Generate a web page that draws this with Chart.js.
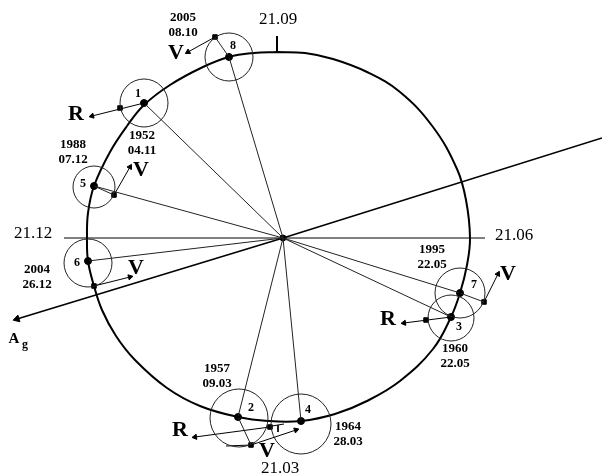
<!DOCTYPE html>
<html>
<head>
<meta charset="utf-8">
<title>Orbit diagram</title>
<script src="https://cdn.jsdelivr.net/npm/chart.js@4"></script>
<style>
  html, body { margin: 0; padding: 0; background: #fff; }
  canvas { display: block; }
</style>
</head>
<body>
<canvas id="orbitChart" width="602" height="476"></canvas>
<script>
const sun = [283, 238];

const orbit = [
  [277,52],[305,53],[333,59],[367,72],[400,92],[433,127],[457,169],[466,200],[470,238],[467,265],
  [460,293],[451,317],[433,349],[400,381],[367,401],[335,414],[301,421],[268,421],[238,417],[200,406],
  [167,388],[135,360],[116,336],[102,310],[94,286],[88,261],[87,238],[88,213],[94,186],[110,152],[127,126],[144,105],
  [170,85],[203,67],[229,57],[254,53],[277,52]
];

const stations = ['1','2','3','4','5','6','7','8'];
const stationX = [144,238,451,301,94,88,460,229];
const stationY = [103,417,317,421,186,261,293,57];
const circleX = [144,239,451,301,94,88,460,229];
const circleY = [103,418,318,424,187,263,293,57];
const circleR = [24,29,23,30,21,24,25,24];
const numberX = [138,251,459,308,83,77,474,233];
const numberY = [94,408,327,410,184,263,285,46];

const dates = [
  ['1952','04.11'],['1957','09.03'],['1960','22.05'],['1964','28.03'],
  ['1988','07.12'],['2004','26.12'],['1995','22.05'],['2005','08.10']
];
const dateX = [142,217,455,348,73,37,432,183];
const dateY = [136,369,349,427,145,270,250,18];

const monthTicks = ['21.09','21.12','21.06','21.03'];
const monthX = [278,33,514,280];
const monthY = [20,234,236,469];

// radius extensions past the orbit
const extensions = [
  [[229,57],[215,37]],
  [[94,186],[114,195]],
  [[460,293],[484,302]],
  [[238,417],[251,445]]
];
const squares = [[120,108],[114,195],[215,37],[251,445],[270,427],[426,320],[484,302],[94,286]];

// velocity / radial vectors: [from, to]
const vectors = [
  [[144,103],[92,116]],
  [[215,37],[188,52]],
  [[114,195],[130,167]],
  [[94,286],[130,277]],
  [[251,445],[296,430]],
  [[270,427],[195,437]],
  [[484,302],[498,274]],
  [[451,317],[404,323]]
];
const vectorNames = ['R','V','V','V','V','R','V','R'];
const nameX = [76,176,141,136,267,180,508,388];
const nameY = [114,53,170,268,451,430,274,319];

const axisLine = [[602,138],[283,238],[17,319]];
const horizontal = [[64,238],[485,238]];
const topTick = [[277,36],[277,52]];
const rightAngle = [[278,425],[278,432]];
const rightAngleTop = [[272,426],[284,424]];
const bottomTangent = [[226,446],[251,445]];

const pts = a => a.map(p => ({x: p[0], y: p[1]}));

function line(a, width, color) {
  return {type: 'scatter', data: pts(a), showLine: true, borderColor: color || '#000', borderWidth: width,
    pointRadius: 0, tension: 0, fill: false};
}

const datasets = [];

// small circles round each station
datasets.push({
  type: 'bubble',
  data: circleX.map((x, i) => ({x: x, y: circleY[i], r: circleR[i]})),
  backgroundColor: 'rgba(0,0,0,0)',
  borderColor: '#222',
  borderWidth: 1
});

// orbit
datasets.push(Object.assign(line(orbit, 2), {tension: 0.4}));

// spokes from the centre
stationX.forEach((x, i) => datasets.push(line([sun, [x, stationY[i]]], 1, '#222')));
extensions.forEach(e => datasets.push(line(e, 1, '#222')));

datasets.push(line(horizontal, 1));
datasets.push(line(topTick, 2));
datasets.push(line(axisLine, 1.6));
datasets.push(line(rightAngle, 1));
datasets.push(line(rightAngleTop, 1));
datasets.push(line(bottomTangent, 1));

// vectors with an arrow head on the far end
vectors.forEach(v => {
  const dx = v[1][0] - v[0][0], dy = v[1][1] - v[0][1];
  datasets.push(Object.assign(line(v, 1), {
    pointStyle: 'triangle',
    pointRadius: [0, 3],
    pointRotation: [0, Math.atan2(dx, -dy) * 180 / Math.PI],
    pointBackgroundColor: '#000',
    pointBorderColor: '#000'
  }));
});

// Ag arrow head
datasets.push({type: 'scatter', data: pts([axisLine[2]]), pointStyle: 'triangle', pointRadius: 4,
  pointRotation: 253, pointBackgroundColor: '#000', pointBorderColor: '#000'});

// dots
datasets.push({type: 'scatter', data: stationX.map((x, i) => ({x: x, y: stationY[i]})),
  pointRadius: 3.5, pointBackgroundColor: '#000', pointBorderColor: '#000'});
datasets.push({type: 'scatter', data: pts(squares), pointStyle: 'rect', pointRadius: 3.2,
  pointBackgroundColor: '#000', pointBorderColor: '#000'});
datasets.push({type: 'scatter', data: pts([sun]), pointRadius: 3,
  pointBackgroundColor: '#000', pointBorderColor: '#000'});

const serif = '"Liberation Serif", serif';

const textPlugin = {
  id: 'diagramText',
  afterDatasetsDraw(chart) {
    const ctx = chart.ctx, sx = chart.scales.x, sy = chart.scales.y;
    const put = (s, x, y, font) => {
      ctx.font = font;
      ctx.fillText(s, sx.getPixelForValue(x), sy.getPixelForValue(y));
    };
    ctx.save();
    ctx.fillStyle = '#000';
    ctx.textAlign = 'center';
    ctx.textBaseline = 'middle';
    stations.forEach((s, i) => put(s, numberX[i], numberY[i], 'bold 12px ' + serif));
    dates.forEach((d, i) => {
      put(d[0], dateX[i], dateY[i], 'bold 13px ' + serif);
      put(d[1], dateX[i], dateY[i] + 14.5, 'bold 13px ' + serif);
    });
    monthTicks.forEach((s, i) => put(s, monthX[i], monthY[i], '17px ' + serif));
    vectorNames.forEach((s, i) => put(s, nameX[i], nameY[i], 'bold 22px ' + serif));
    put('A', 14, 339, 'bold 15px ' + serif);
    put('g', 25, 345, 'bold 12px ' + serif);
    ctx.restore();
  }
};

new Chart(document.getElementById('orbitChart').getContext('2d'), {
  type: 'bubble',
  data: {datasets: datasets},
  plugins: [textPlugin],
  options: {
    responsive: false,
    animation: false,
    layout: {padding: 0, autoPadding: false},
    clip: false,
    plugins: {legend: {display: false}, tooltip: {enabled: false}, title: {display: false}},
    scales: {
      x: {type: 'linear', min: 0, max: 602, display: false},
      y: {type: 'linear', min: 0, max: 476, reverse: true, display: false}
    }
  }
});
</script>
</body>
</html>
